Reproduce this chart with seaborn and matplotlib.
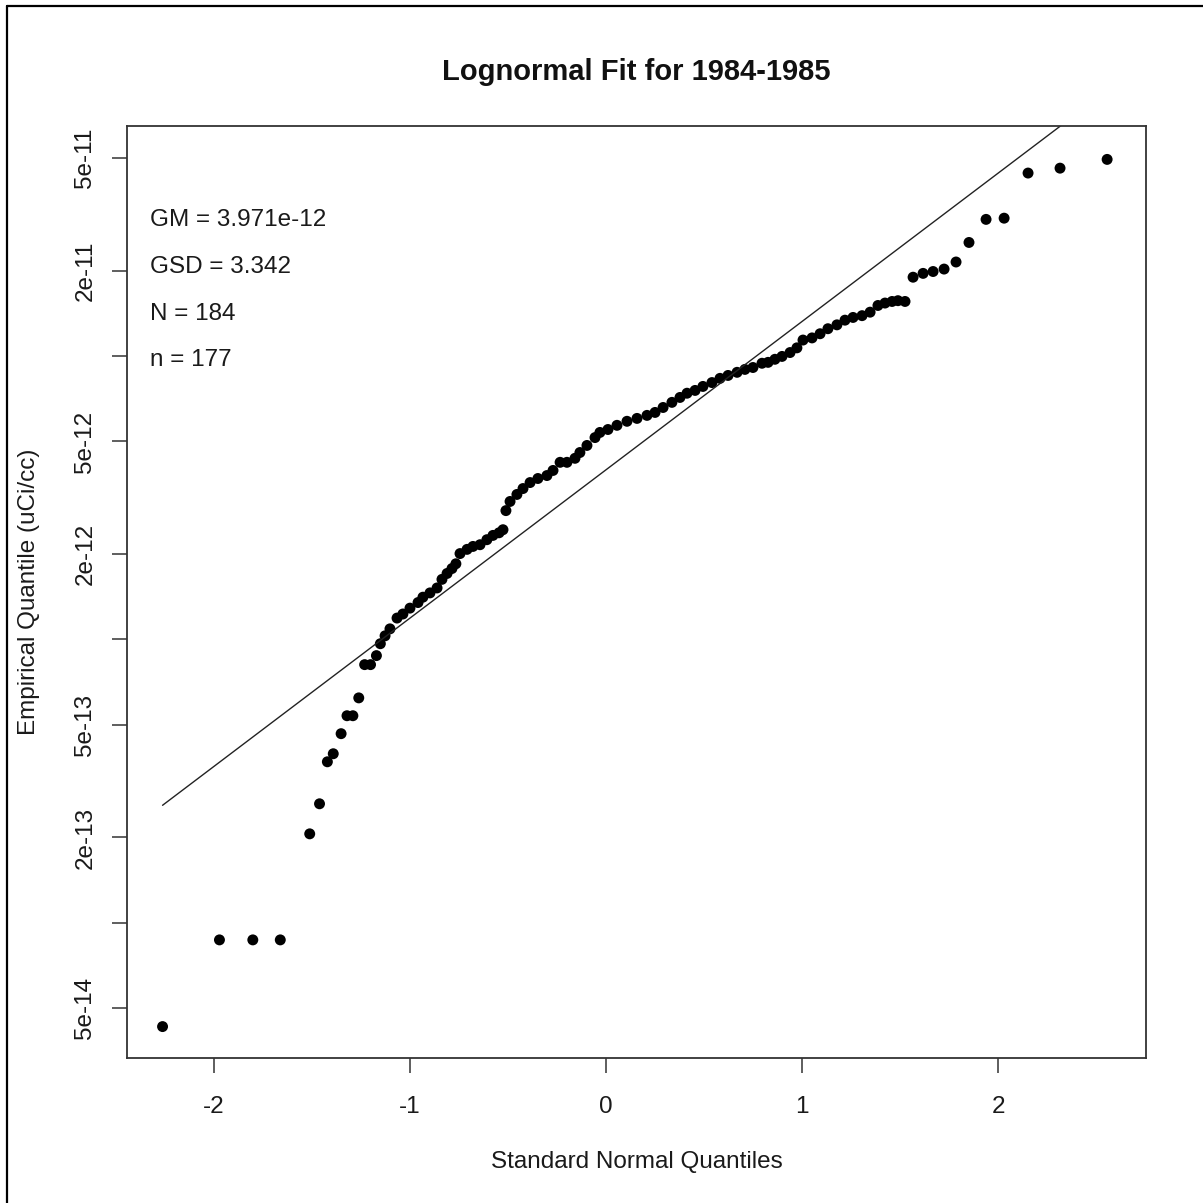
import numpy as np
import pandas as pd
import matplotlib
matplotlib.use("Agg")
import matplotlib.pyplot as plt
from matplotlib.lines import Line2D
import seaborn as sns

# data
theo_q = [-2.26, -1.97, -1.80, -1.66, -1.51, -1.46, -1.42, -1.39, -1.35, -1.32,
          -1.29, -1.26, -1.23, -1.20, -1.17, -1.15, -1.126, -1.101, -1.065, -1.035,
          -0.999, -0.958, -0.933, -0.897, -0.861, -0.836, -0.810, -0.785, -0.765,
          -0.744, -0.708, -0.678, -0.642, -0.607, -0.576, -0.545, -0.525,
          -0.510, -0.489, -0.454, -0.423, -0.387, -0.347, -0.301, -0.270, -0.234,
          -0.199, -0.158, -0.133, -0.097, -0.056, -0.031, 0.010, 0.056, 0.107,
          0.158, 0.209, 0.250, 0.291, 0.336, 0.377, 0.413, 0.454, 0.494, 0.540,
          0.581, 0.622, 0.668, 0.708, 0.749, 0.795, 0.826,
          0.861, 0.897, 0.938, 0.973, 1.004, 1.050, 1.091, 1.131, 1.177, 1.218,
          1.259, 1.305, 1.346, 1.386, 1.422, 1.458, 1.488, 1.524,
          1.565, 1.616, 1.667, 1.723, 1.784, 1.850, 1.937, 2.029, 2.151, 2.314, 2.554]
emp_q = [4.3e-14, 8.7e-14, 8.7e-14, 8.7e-14, 2.06e-13, 2.63e-13, 3.7e-13, 3.95e-13, 4.65e-13, 5.38e-13,
         5.38e-13, 6.22e-13, 8.15e-13, 8.15e-13, 8.77e-13, 9.66e-13, 1.03e-12, 1.09e-12, 1.19e-12, 1.23e-12,
         1.29e-12, 1.35e-12, 1.41e-12, 1.46e-12, 1.52e-12, 1.63e-12, 1.71e-12, 1.78e-12, 1.85e-12,
         2.01e-12, 2.08e-12, 2.13e-12, 2.16e-12, 2.25e-12, 2.33e-12, 2.38e-12, 2.44e-12,
         2.85e-12, 3.07e-12, 3.25e-12, 3.41e-12, 3.58e-12, 3.70e-12, 3.79e-12, 3.95e-12, 4.22e-12,
         4.22e-12, 4.36e-12, 4.57e-12, 4.84e-12, 5.16e-12, 5.38e-12, 5.51e-12, 5.70e-12, 5.89e-12,
         6.03e-12, 6.18e-12, 6.33e-12, 6.59e-12, 6.87e-12, 7.15e-12, 7.40e-12, 7.57e-12, 7.82e-12, 8.07e-12,
         8.35e-12, 8.55e-12, 8.77e-12, 8.98e-12, 9.12e-12, 9.44e-12, 9.51e-12,
         9.75e-12, 9.98e-12, 1.03e-11, 1.07e-11, 1.14e-11, 1.16e-11, 1.20e-11, 1.25e-11, 1.29e-11, 1.34e-11,
         1.37e-11, 1.39e-11, 1.43e-11, 1.51e-11, 1.54e-11, 1.56e-11, 1.57e-11, 1.56e-11,
         1.90e-11, 1.96e-11, 1.99e-11, 2.03e-11, 2.15e-11, 2.52e-11, 3.04e-11, 3.07e-11, 4.43e-11, 4.61e-11, 4.95e-11]

gm = 3.971e-12
gsd = 3.342
n_total = 184
n_det = 177

y_ticks = [5e-14, 1e-13, 2e-13, 5e-13, 1e-12, 2e-12, 5e-12, 1e-11, 2e-11, 5e-11]
y_ticklabels = ["5e-14", "", "2e-13", "5e-13", "", "2e-12", "5e-12", "", "2e-11", "5e-11"]
x_ticks = [-2, -1, 0, 1, 2]

sns.set_style("white")
plt.rcParams["font.family"] = ["Liberation Sans", "DejaVu Sans"]

df = pd.DataFrame({"q": theo_q, "val": emp_q})

# fit line from GM and GSD
line_x = [min(theo_q), max(theo_q)]
line_y = [gm * gsd ** v for v in line_x]
line_df = pd.DataFrame({"q": line_x, "val": line_y})

fig = plt.figure(figsize=(12.03, 12.03), dpi=100)
ax = fig.add_axes([0.1056, 0.1205, 0.847, 0.7747])

sns.lineplot(data=line_df, x="q", y="val", ax=ax, color="#222222", linewidth=1.0)
sns.scatterplot(data=df, x="q", y="val", ax=ax, color="black", s=62,
                edgecolor="none", linewidth=0)

ax.set_yscale("log")
ax.set_xlim(-2.441, 2.752)
ax.set_ylim(3.33e-14, 6.49e-11)
ax.set_xticks(x_ticks)
ax.set_xticklabels([str(t) for t in x_ticks])
ax.set_yticks(y_ticks)
ax.set_yticklabels(y_ticklabels)
ax.yaxis.set_minor_locator(matplotlib.ticker.NullLocator())

fs = 17.5
ax.tick_params(axis="both", direction="out", length=11, width=1.1, color="#333333",
               labelsize=fs, labelcolor="#1a1a1a", bottom=True, left=True)
ax.tick_params(axis="x", pad=16)
ax.tick_params(axis="y", pad=11)
for lab in ax.get_yticklabels():
    lab.set_rotation(90)
    lab.set_va("center")

for sp in ax.spines.values():
    sp.set_visible(True)
    sp.set_color("#333333")
    sp.set_linewidth(1.3)

ax.set_xlabel("Standard Normal Quantiles", fontsize=fs, color="#1a1a1a", labelpad=24)
ax.set_ylabel("Empirical Quantile (uCi/cc)", fontsize=fs, color="#1a1a1a", labelpad=25)
ax.set_title("Lognormal Fit for 1984-1985", fontsize=21, fontweight="bold", pad=33,
             color="#111111")

stats = ["GM = %.3e" % gm, "GSD = %.3f" % gsd, "N = %d" % n_total, "n = %d" % n_det]
for i, s in enumerate(stats):
    ax.text(0.0225, 0.899 - i * 0.0501, s, transform=ax.transAxes,
            fontsize=fs, color="#1a1a1a", va="center", ha="left")

# screenshot frame: only left and top edges
fig.add_artist(Line2D([0.0058, 0.0058], [0.0, 0.995], transform=fig.transFigure,
                      color="black", linewidth=1.6))
fig.add_artist(Line2D([0.0058, 1.0], [0.995, 0.995], transform=fig.transFigure,
                      color="black", linewidth=1.6))

fig.savefig("out.png", dpi=100)
